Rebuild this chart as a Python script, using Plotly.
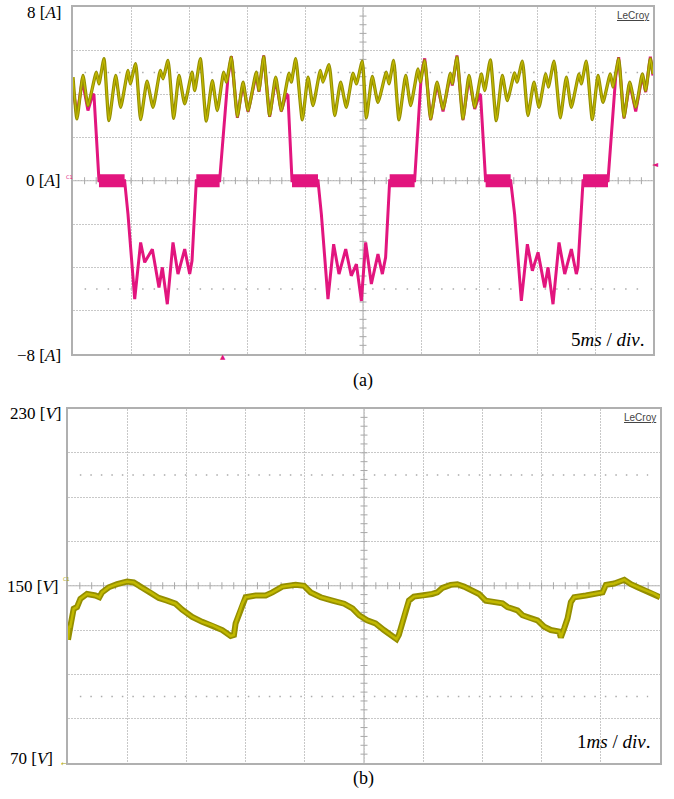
import plotly.graph_objects as go

W, H = 674, 799

# ---------------- Panel (a): currents, 5 ms/div, 2 A/div ----------------
A_T_YEL = [0.00, 0.34, 0.86, 1.29, 2.01, 2.24, 2.67, 3.10, 3.68, 4.11, 4.74, 4.94, 5.40, 5.83,
           6.38, 6.90, 7.53, 7.76, 8.19, 8.68, 9.14, 9.63, 10.26, 10.49, 10.98, 11.49, 12.01,
           12.44, 12.99, 13.22, 13.65, 14.17, 14.66, 15.09, 15.80, 16.03, 16.44, 16.95, 17.47,
           17.96, 18.62, 18.82, 19.20, 19.77, 20.26, 20.69, 21.32, 21.55, 22.07, 22.56, 23.07,
           23.56, 24.14, 24.43, 24.94, 25.29, 25.80, 26.29, 27.01, 27.24, 27.64, 28.10, 28.68,
           29.11, 29.74, 29.94, 30.32, 30.83, 31.38, 31.90, 32.53, 32.70, 33.10, 33.62, 34.14,
           34.63, 35.20, 35.49, 35.98, 36.49, 37.01, 37.44, 38.07, 38.28, 38.74, 39.22, 39.74,
           40.17, 40.75, 40.98, 41.47, 42.01, 42.53, 42.96, 43.62, 43.82, 44.25, 44.77, 45.26,
           45.69, 46.32, 46.55, 47.04, 47.50, 47.99, 48.51, 49.08, 49.37, 49.77, 50.00]
A_YEL = [4.78, 2.85, 4.86, 3.47, 5.01, 4.47, 5.63, 2.77, 4.86, 3.39, 5.09, 4.47, 5.40, 2.82,
         4.59, 3.39, 5.09, 4.70, 5.55, 2.88, 4.86, 3.55, 5.01, 4.16, 5.63, 2.75, 4.62,
         3.24, 5.01, 4.55, 5.70, 2.96, 4.55, 3.24, 5.01, 4.16, 5.73, 3.01, 4.78,
         3.24, 4.96, 4.55, 5.63, 2.81, 4.78, 3.47, 5.09, 4.55, 5.36, 3.01, 4.55,
         3.39, 4.96, 4.47, 5.52, 2.90, 4.81, 3.62, 5.01, 4.47, 5.55, 2.81, 4.86,
         3.47, 5.16, 4.55, 5.55, 2.85, 4.55, 3.31, 4.96, 4.47, 5.70, 2.85, 4.86,
         3.39, 4.93, 4.16, 5.58, 2.77, 4.86, 3.70, 4.98, 4.55, 5.52, 3.01, 4.55,
         3.39, 4.93, 4.32, 5.52, 2.90, 4.78, 3.39, 4.93, 4.47, 5.52, 2.82, 4.86,
         3.62, 4.93, 4.32, 5.63, 2.93, 4.55, 3.39, 4.93, 4.16, 5.63, 4.93]

A_T_PINK = [0.00, 0.34, 0.80, 1.29, 1.72, 1.81, 2.24, 4.45, 4.74, 5.03, 5.32, 5.83, 6.18, 6.84,
            7.41, 7.70, 8.13, 8.62, 9.05, 9.63, 10.06, 10.26, 10.63, 12.64, 13.07, 13.36, 13.65,
            14.17, 14.66, 15.09, 15.80, 16.03, 16.44, 16.95, 17.47, 17.96, 18.39, 18.53, 18.88,
            21.12, 21.41, 21.70, 21.98, 22.47, 22.93, 23.51, 23.99, 24.43, 24.86, 25.23, 25.72,
            26.29, 26.67, 26.95, 27.30, 29.45, 29.74, 30.03, 30.32, 30.83, 31.38, 31.90, 32.53,
            32.70, 33.10, 33.62, 34.14, 34.63, 35.06, 35.14, 35.57, 37.73, 38.07, 38.36, 38.65,
            39.17, 39.60, 40.09, 40.66, 40.95, 41.38, 41.90, 42.39, 42.96, 43.39, 43.53, 43.97,
            46.12, 46.49, 46.78, 47.04, 47.50, 47.99, 48.51, 49.08, 49.37, 49.77, 50.00]
A_PINK = [4.30, 3.00, 4.65, 3.24, 4.01, 3.93, 0.00, 0.00, -1.54, -3.39, -5.47, -2.85, -3.77, -3.16,
          -4.93, -4.00, -5.70, -2.85, -4.31, -3.16, -4.31, -3.70, 0.00, 0.00, 2.62, 4.78, 5.75,
          2.90, 4.50, 3.18, 4.93, 4.10, 5.78, 2.95, 4.70, 3.20, 4.01, 3.93, 0.00,
          0.00, -1.54, -3.54, -5.47, -2.93, -4.31, -3.16, -4.39, -3.85, -5.55, -2.85, -4.77,
          -3.39, -4.31, -3.54, 0.00, 0.00, 2.62, 4.93, 5.65, 2.80, 4.50, 3.20, 4.90,
          4.39, 5.78, 2.80, 4.78, 3.31, 4.01, 3.93, 0.00, 0.00, -1.54, -3.39, -5.55,
          -2.93, -4.16, -3.31, -4.93, -4.00, -5.70, -2.85, -4.31, -3.16, -4.31, -4.00, 0.00,
          0.00, 2.62, 4.78, 5.70, 2.88, 4.50, 3.20, 4.86, 4.09, 5.72, 4.86]

# zero-current intervals (noisy plateau) of the pink trace
PLATEAU_START = [2.24, 10.63, 18.88, 27.30, 35.57, 43.97]
PLATEAU_END = [4.45, 12.64, 21.12, 29.45, 37.73, 46.12]
PLATEAU_NOISE = 0.30

A_CURSORS = [5, -5]

# ---------------- Panel (b): voltage, 1 ms/div, 20 V/div ----------------
B_T = [0.000, 0.023, 0.039, 0.096, 0.152, 0.209, 0.321, 0.462, 0.530, 0.575, 0.688, 0.829,
       0.998, 1.111, 1.252, 1.393, 1.534, 1.675, 1.816, 1.929, 2.098, 2.267, 2.437, 2.606,
       2.747, 2.803, 2.831, 2.888, 2.944, 3.000, 3.170, 3.339, 3.452, 3.621, 3.846, 3.987,
       4.100, 4.269, 4.467, 4.664, 4.805, 4.918, 5.054, 5.195, 5.336, 5.477, 5.550, 5.589,
       5.646, 5.702, 5.759, 5.843, 6.012, 6.153, 6.238, 6.323, 6.464, 6.576, 6.689, 6.830,
       6.943, 7.056, 7.197, 7.338, 7.423, 7.592, 7.676, 7.817, 7.930, 8.043, 8.156, 8.297,
       8.325, 8.381, 8.438, 8.494, 8.550, 8.748, 8.889, 9.030, 9.086, 9.227, 9.397, 9.509,
       9.650, 9.791, 9.904, 10.000]
B_V = [125.6, 131.5, 131.5, 139.6, 140.4, 144.1, 146.3, 145.6, 144.8, 147.0, 149.3, 150.7,
       151.9, 151.5, 149.0, 147.0, 144.5, 143.3, 141.9, 139.2, 135.9, 133.7, 132.2, 130.0,
       127.3, 127.8, 133.0, 137.4, 141.9, 144.8, 145.6, 145.6, 147.0, 149.6, 150.4, 150.0,
       147.0, 144.8, 143.3, 141.9, 139.8, 136.7, 134.4, 133.0, 130.0, 127.3, 125.9, 127.8,
       133.7, 138.9, 143.3, 145.1, 145.6, 146.3, 147.0, 149.0, 150.4, 150.7, 149.6, 147.8,
       146.3, 143.3, 142.6, 142.1, 140.4, 138.9, 136.7, 135.2, 134.4, 131.5, 130.0, 129.3,
       126.7, 130.7, 135.2, 142.6, 144.8, 145.6, 146.3, 147.0, 150.4, 151.0, 152.7, 150.7,
       149.0, 147.5, 146.3, 144.8]

B_CURSORS = [200, 100]

# ---------------- styles ----------------
YEL_DARK = '#948E00'
YEL_LIGHT = '#C2B900'
PINK = '#E2157E'
GRID = '#C8C8C8'
FRAME = '#B0B0B0'
CENTER = '#A8A8A8'
SERIF = 'Liberation Serif, Times New Roman, serif'


def px(x):
    return x / W


def py(y):
    return 1 - y / H


fig = go.Figure()

# centre-line minor ticks (0.2 div spacing) - drawn first, beneath traces
a_tx = [i * 1.0 for i in range(1, 50)]
a_ty = [-8 + i * 0.4 for i in range(1, 40)]
b_tx = [i * 0.2 for i in range(1, 50)]
b_ty = [70 + i * 4 for i in range(1, 40)]
tick_style = dict(color=CENTER, size=5, line=dict(color=CENTER, width=1))
fig.add_trace(go.Scatter(x=a_tx, y=[0] * len(a_tx), mode='markers', xaxis='x', yaxis='y',
                         marker=dict(symbol='line-ns-open', **tick_style)))
fig.add_trace(go.Scatter(x=[25] * len(a_ty), y=a_ty, mode='markers', xaxis='x', yaxis='y',
                         marker=dict(symbol='line-ew-open', **tick_style)))
fig.add_trace(go.Scatter(x=b_tx, y=[150] * len(b_tx), mode='markers', xaxis='x2', yaxis='y2',
                         marker=dict(symbol='line-ns-open', **tick_style)))
fig.add_trace(go.Scatter(x=[5] * len(b_ty), y=b_ty, mode='markers', xaxis='x2', yaxis='y2',
                         marker=dict(symbol='line-ew-open', **tick_style)))

# Panel (a) traces
for s, e in zip(PLATEAU_START, PLATEAU_END):
    fig.add_trace(go.Scatter(x=[s, e, e, s], y=[PLATEAU_NOISE, PLATEAU_NOISE, -PLATEAU_NOISE, -PLATEAU_NOISE],
                             fill='toself', fillcolor=PINK, mode='lines', line=dict(width=0, color=PINK),
                             xaxis='x', yaxis='y', hoverinfo='skip'))
fig.add_trace(go.Scatter(x=A_T_PINK, y=A_PINK, mode='lines', line=dict(color=PINK, width=3),
                         xaxis='x', yaxis='y'))
fig.add_trace(go.Scatter(x=A_T_YEL, y=A_YEL, mode='lines',
                         line=dict(color=YEL_DARK, width=3.3, shape='spline', smoothing=0.5),
                         xaxis='x', yaxis='y'))
fig.add_trace(go.Scatter(x=A_T_YEL, y=A_YEL, mode='lines',
                         line=dict(color=YEL_LIGHT, width=1.3, shape='spline', smoothing=0.5),
                         xaxis='x', yaxis='y'))

# Panel (b) traces
fig.add_trace(go.Scatter(x=B_T, y=B_V, mode='lines', line=dict(color=YEL_DARK, width=6),
                         xaxis='x2', yaxis='y2'))
fig.add_trace(go.Scatter(x=B_T, y=B_V, mode='lines', line=dict(color=YEL_LIGHT, width=2.5),
                         xaxis='x2', yaxis='y2'))

shapes = []
# centre lines
shapes.append(dict(type='line', xref='x', yref='y domain', x0=25, x1=25, y0=0, y1=1,
                   line=dict(color=CENTER, width=1), layer='below'))
shapes.append(dict(type='line', xref='x domain', yref='y', x0=0, x1=1, y0=0, y1=0,
                   line=dict(color=CENTER, width=1), layer='below'))
shapes.append(dict(type='line', xref='x2', yref='y2 domain', x0=5, x1=5, y0=0, y1=1,
                   line=dict(color=CENTER, width=1), layer='below'))
shapes.append(dict(type='line', xref='x2 domain', yref='y2', x0=0, x1=1, y0=150, y1=150,
                   line=dict(color=CENTER, width=1), layer='below'))
# cursor dotted lines
for c in A_CURSORS:
    shapes.append(dict(type='line', xref='x domain', yref='y', x0=0.02, x1=0.98, y0=c, y1=c,
                       line=dict(color='#ABABAB', width=1.5, dash='1.5px,10px'), layer='below'))
for c in B_CURSORS:
    shapes.append(dict(type='line', xref='x2 domain', yref='y2', x0=0.02, x1=0.98, y0=c, y1=c,
                       line=dict(color='#ABABAB', width=1.5, dash='1.5px,9px'), layer='below'))

axis_common = dict(showgrid=True, gridcolor=GRID, gridwidth=1, griddash='2px,1px', zeroline=False,
                   showticklabels=False, ticks='', showline=True, mirror=True,
                   linecolor=FRAME, linewidth=1.5, fixedrange=True)

fig.update_layout(
    width=W, height=H, margin=dict(l=0, r=0, t=0, b=0),
    paper_bgcolor='white', plot_bgcolor='white', showlegend=False, hovermode=False,
    xaxis=dict(domain=[px(73), px(653)], range=[0, 50], tick0=0, dtick=5, anchor='y', **axis_common),
    yaxis=dict(domain=[py(354), py(7.4)], range=[-8, 8], tick0=-8, dtick=2, anchor='x', **axis_common),
    xaxis2=dict(domain=[px(68), px(660)], range=[0, 10], tick0=0, dtick=1, anchor='y2', **axis_common),
    yaxis2=dict(domain=[py(763), py(408.5)], range=[70, 230], tick0=70, dtick=20, anchor='x2', **axis_common),
    shapes=shapes,
)

ann = []


def label(text, x, y, xanchor='right', size=17, family=SERIF, color='black'):
    ann.append(dict(text=text, x=px(x), y=py(y), xref='paper', yref='paper', xanchor=xanchor,
                    yanchor='middle', showarrow=False, font=dict(family=family, size=size, color=color)))


# panel (a) labels
label('8 [<i>A</i>]', 63, 13)
label('0 [<i>A</i>]', 62, 181)
label('−8 [<i>A</i>]', 63, 355)
label('(a)', 363, 380, xanchor='center', size=18)
label('5<i>ms</i> / <i>div</i>.', 646, 340, size=19)
label('<u>LeCroy</u>', 651, 15, size=10, family='Liberation Sans, Arial, sans-serif', color='#444444')
label('C1', 64, 177, xanchor='left', size=5, family='DejaVu Sans', color=PINK)
label('◄', 661, 164, size=8, family='DejaVu Sans', color=PINK)
label('▲', 223, 357, xanchor='center', size=7, family='DejaVu Sans', color=PINK)

# panel (b) labels
label('230 [<i>V</i>]', 63, 413)
label('150 [<i>V</i>]', 60, 586)
label('70 [<i>V</i>]', 55, 758)
label('(b)', 363, 778, xanchor='center', size=18)
label('1<i>ms</i> / <i>div</i>.', 652, 741, size=19)
label('<u>LeCroy</u>', 658, 417, size=10, family='Liberation Sans, Arial, sans-serif', color='#444444')
label('C1', 61, 579, xanchor='left', size=5, family='DejaVu Sans', color='#B0A600')
label('←', 69, 764, size=7, family='DejaVu Sans', color='#B0A600')

fig.update_layout(annotations=ann)

fig.write_html('out.html')
